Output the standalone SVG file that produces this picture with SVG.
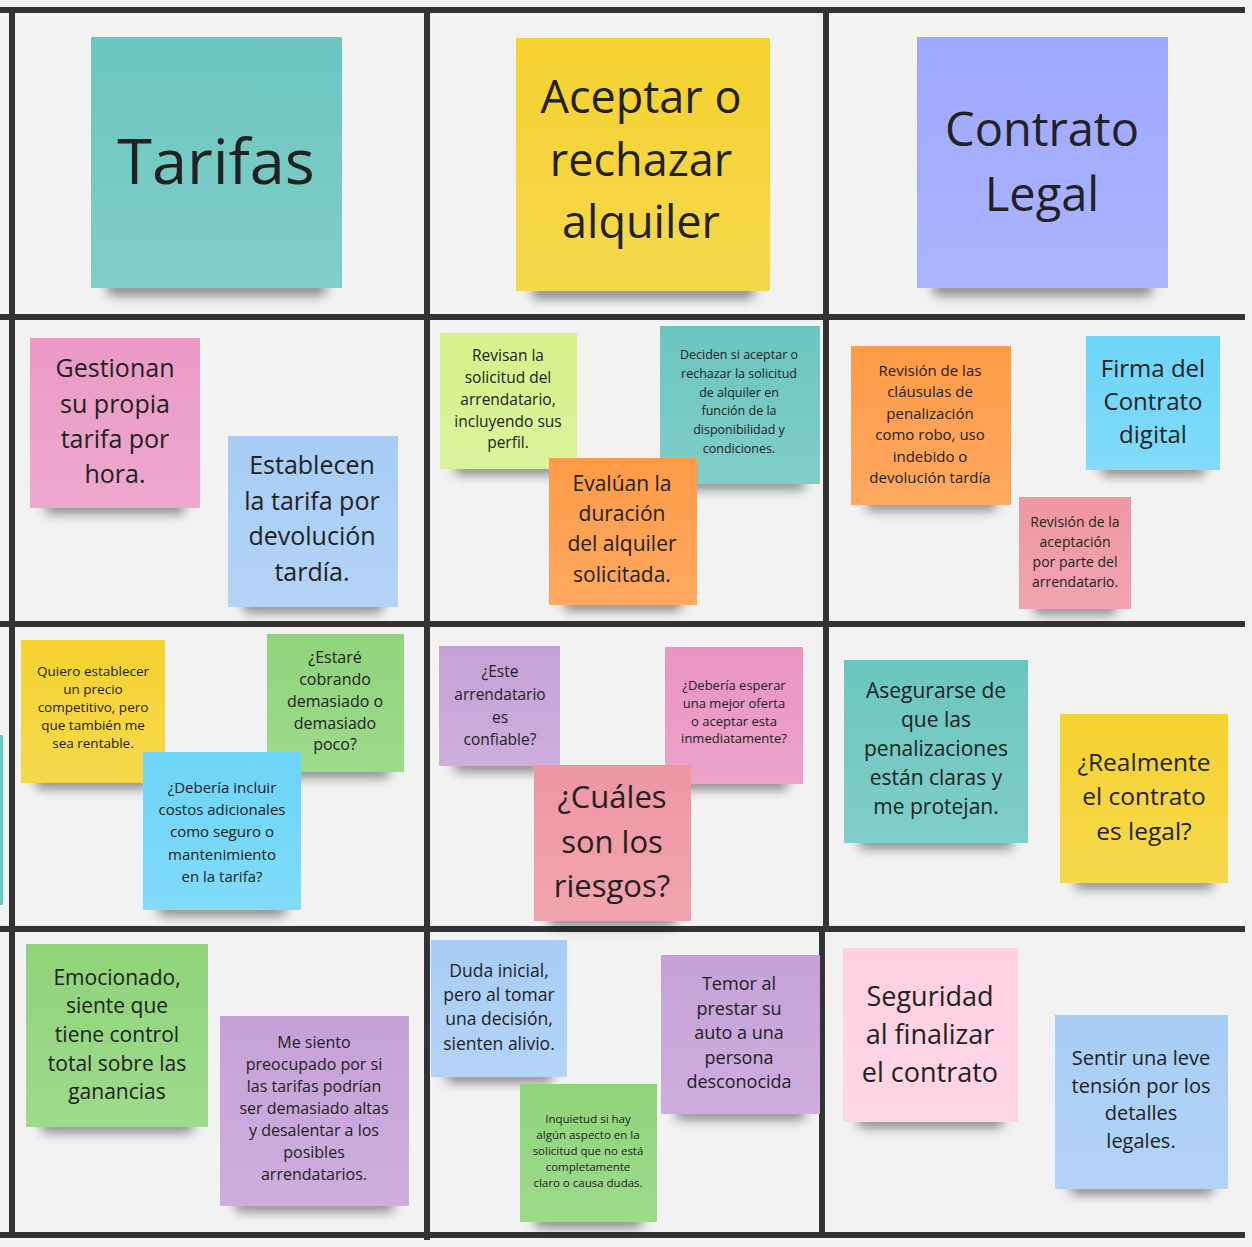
<svg xmlns="http://www.w3.org/2000/svg" width="1252" height="1247" viewBox="0 0 1252 1247">
<defs>
<filter id="blur" x="-20%" y="-150%" width="140%" height="400%"><feGaussianBlur stdDeviation="5.5"/></filter>
<linearGradient id="sheen" x1="0" y1="0" x2="0" y2="1"><stop offset="0" stop-color="#fff" stop-opacity="0"/><stop offset="1" stop-color="#fff" stop-opacity="0.14"/></linearGradient>
<style>
.sh{fill:#000;opacity:.42;filter:url(#blur)}
.gl{fill:url(#sheen)}
.t{font-family:"Open Sans","Noto Sans","Liberation Sans",sans-serif;fill:#222;text-anchor:middle}
.grid{stroke:#333;stroke-width:6;fill:none}
.teal{fill:#6bc6bf}.yel{fill:#f5d230}.peri{fill:#9ea8ff}.pink{fill:#eb9ac5}.lblue{fill:#a7cdf5}
.lgreen{fill:#d5f28b}.orange{fill:#ff9b47}.cyan{fill:#6dd5f8}.rose{fill:#ef96a3}.green{fill:#8fd47a}
.purple{fill:#c6a1d8}.mag{fill:#ea94c1}.lpink{fill:#ffd0e1}
</style>
</defs>
<rect width="1252" height="1247" fill="#f2f2f2"/>
<g id="grid" class="grid">
<line x1="0" y1="10" x2="1245" y2="10"/>
<line x1="0" y1="317" x2="1245" y2="317"/>
<line x1="0" y1="624" x2="1245" y2="624"/>
<line x1="0" y1="929" x2="1245" y2="929"/>
<line x1="0" y1="1235" x2="1245" y2="1235"/>
<line x1="12" y1="7" x2="12" y2="1238"/>
<line x1="427" y1="7" x2="427" y2="1240"/>
<line x1="826" y1="7" x2="826" y2="929"/>
<line x1="822" y1="929" x2="822" y2="1238"/>
</g>
<g id="connectors"></g>

<g id="n-edge"><rect x="-10" y="735" width="13" height="170" class="teal"/></g>

<g id="n-tarifas"><rect class="sh" x="106" y="280" width="221" height="16" rx="8"/><rect x="91" y="37" width="251" height="251" class="teal"/><rect x="91" y="37" width="251" height="251" class="gl"/>
<text class="t" x="216" y="184" font-size="63">Tarifas</text></g>

<g id="n-aceptar"><rect class="sh" x="531" y="283" width="224" height="16" rx="8"/><rect x="516" y="38" width="254" height="253" class="yel"/><rect x="516" y="38" width="254" height="253" class="gl"/>
<text class="t" x="641" font-size="45"><tspan x="641" y="113">Aceptar o</tspan><tspan x="641" y="176">rechazar</tspan><tspan x="641" y="238">alquiler</tspan></text></g>

<g id="n-contrato"><rect class="sh" x="932" y="280" width="221" height="16" rx="8"/><rect x="917" y="37" width="251" height="251" class="peri"/><rect x="917" y="37" width="251" height="251" class="gl"/>
<text class="t" font-size="47"><tspan x="1042" y="146">Contrato</tspan><tspan x="1042" y="211">Legal</tspan></text></g>

<g id="n-gestionan"><rect class="sh" x="44" y="500" width="142" height="14" rx="7"/><rect x="30" y="338" width="170" height="170" class="pink"/><rect x="30" y="338" width="170" height="170" class="gl"/>
<text class="t" font-size="25"><tspan x="115" y="377">Gestionan</tspan><tspan x="115" y="413">su propia</tspan><tspan x="115" y="448">tarifa por</tspan><tspan x="115" y="483">hora.</tspan></text></g>

<g id="n-establecen"><rect class="sh" x="242" y="599" width="142" height="14" rx="7"/><rect x="228" y="436" width="170" height="171" class="lblue"/><rect x="228" y="436" width="170" height="171" class="gl"/>
<text class="t" font-size="25"><tspan x="312" y="474">Establecen</tspan><tspan x="312" y="510">la tarifa por</tspan><tspan x="312" y="545">devolución</tspan><tspan x="312" y="581">tardía.</tspan></text></g>

<g id="n-revisan"><rect class="sh" x="454" y="461" width="109" height="14" rx="7"/><rect x="440" y="333" width="137" height="136" class="lgreen"/><rect x="440" y="333" width="137" height="136" class="gl"/>
<text class="t" font-size="15.5"><tspan x="508" y="361">Revisan la</tspan><tspan x="508" y="383">solicitud del</tspan><tspan x="508" y="405">arrendatario,</tspan><tspan x="508" y="427">incluyendo sus</tspan><tspan x="508" y="448">perfil.</tspan></text></g>

<g id="n-deciden"><rect class="sh" x="674" y="476" width="132" height="14" rx="7"/><rect x="660" y="326" width="160" height="158" class="teal"/><rect x="660" y="326" width="160" height="158" class="gl"/>
<text class="t" font-size="12.5"><tspan x="739" y="359">Deciden si aceptar o</tspan><tspan x="739" y="378">rechazar la solicitud</tspan><tspan x="739" y="397">de alquiler en</tspan><tspan x="739" y="415">función de la</tspan><tspan x="739" y="434">disponibilidad y</tspan><tspan x="739" y="453">condiciones.</tspan></text></g>

<g id="n-evaluan"><rect class="sh" x="563" y="597" width="120" height="14" rx="7"/><rect x="549" y="458" width="148" height="147" class="orange"/><rect x="549" y="458" width="148" height="147" class="gl"/>
<text class="t" font-size="21"><tspan x="622" y="491">Evalúan la</tspan><tspan x="622" y="521">duración</tspan><tspan x="622" y="551">del alquiler</tspan><tspan x="622" y="582">solicitada.</tspan></text></g>

<g id="n-clausulas"><rect class="sh" x="865" y="497" width="132" height="14" rx="7"/><rect x="851" y="346" width="160" height="159" class="orange"/><rect x="851" y="346" width="160" height="159" class="gl"/>
<text class="t" font-size="15"><tspan x="930" y="376">Revisión de las</tspan><tspan x="930" y="397">cláusulas de</tspan><tspan x="930" y="419">penalización</tspan><tspan x="930" y="440">como robo, uso</tspan><tspan x="930" y="462">indebido o</tspan><tspan x="930" y="483">devolución tardía</tspan></text></g>

<g id="n-firma"><rect class="sh" x="1100" y="462" width="106" height="14" rx="7"/><rect x="1086" y="336" width="134" height="134" class="cyan"/><rect x="1086" y="336" width="134" height="134" class="gl"/>
<text class="t" font-size="24"><tspan x="1153" y="377">Firma del</tspan><tspan x="1153" y="410">Contrato</tspan><tspan x="1153" y="443">digital</tspan></text></g>

<g id="n-aceptacion"><rect class="sh" x="1033" y="601" width="84" height="14" rx="7"/><rect x="1019" y="497" width="112" height="112" class="rose"/><rect x="1019" y="497" width="112" height="112" class="gl"/>
<text class="t" font-size="14"><tspan x="1075" y="527">Revisión de la</tspan><tspan x="1075" y="547">aceptación</tspan><tspan x="1075" y="567">por parte del</tspan><tspan x="1075" y="587">arrendatario.</tspan></text></g>

<g id="n-quiero"><rect class="sh" x="35" y="775" width="116" height="14" rx="7"/><rect x="21" y="640" width="144" height="143" class="yel"/><rect x="21" y="640" width="144" height="143" class="gl"/>
<text class="t" font-size="13.5"><tspan x="93" y="676">Quiero establecer</tspan><tspan x="93" y="694">un precio</tspan><tspan x="93" y="712">competitivo, pero</tspan><tspan x="93" y="730">que también me</tspan><tspan x="93" y="748">sea rentable.</tspan></text></g>

<g id="n-estare"><rect class="sh" x="281" y="764" width="109" height="14" rx="7"/><rect x="267" y="634" width="137" height="138" class="green"/><rect x="267" y="634" width="137" height="138" class="gl"/>
<text class="t" font-size="16"><tspan x="335" y="663">¿Estaré</tspan><tspan x="335" y="685">cobrando</tspan><tspan x="335" y="707">demasiado o</tspan><tspan x="335" y="729">demasiado</tspan><tspan x="335" y="750">poco?</tspan></text></g>

<g id="n-incluir"><rect class="sh" x="157" y="902" width="130" height="14" rx="7"/><rect x="143" y="752" width="158" height="158" class="cyan"/><rect x="143" y="752" width="158" height="158" class="gl"/>
<text class="t" font-size="15"><tspan x="222" y="793">¿Debería incluir</tspan><tspan x="222" y="815">costos adicionales</tspan><tspan x="222" y="837">como seguro o</tspan><tspan x="222" y="860">mantenimiento</tspan><tspan x="222" y="882">en la tarifa?</tspan></text></g>

<g id="n-confiable"><rect class="sh" x="453" y="758" width="93" height="14" rx="7"/><rect x="439" y="646" width="121" height="120" class="purple"/><rect x="439" y="646" width="121" height="120" class="gl"/>
<text class="t" font-size="15.5"><tspan x="500" y="677">¿Este</tspan><tspan x="500" y="700">arrendatario</tspan><tspan x="500" y="723">es</tspan><tspan x="500" y="745">confiable?</tspan></text></g>

<g id="n-esperar"><rect class="sh" x="679" y="776" width="110" height="14" rx="7"/><rect x="665" y="647" width="138" height="137" class="mag"/><rect x="665" y="647" width="138" height="137" class="gl"/>
<text class="t" font-size="13"><tspan x="734" y="690">¿Debería esperar</tspan><tspan x="734" y="708">una mejor oferta</tspan><tspan x="734" y="726">o aceptar esta</tspan><tspan x="734" y="743">inmediatamente?</tspan></text></g>

<g id="n-riesgos"><rect class="sh" x="548" y="913" width="129" height="14" rx="7"/><rect x="534" y="765" width="157" height="156" class="rose"/><rect x="534" y="765" width="157" height="156" class="gl"/>
<text class="t" font-size="31"><tspan x="612" y="808">¿Cuáles</tspan><tspan x="612" y="853">son los</tspan><tspan x="612" y="897">riesgos?</tspan></text></g>

<g id="n-asegurarse"><rect class="sh" x="858" y="835" width="156" height="14" rx="7"/><rect x="844" y="660" width="184" height="183" class="teal"/><rect x="844" y="660" width="184" height="183" class="gl"/>
<text class="t" font-size="21"><tspan x="936" y="698">Asegurarse de</tspan><tspan x="936" y="727">que las</tspan><tspan x="936" y="756">penalizaciones</tspan><tspan x="936" y="785">están claras y</tspan><tspan x="936" y="814">me protejan.</tspan></text></g>

<g id="n-legal"><rect class="sh" x="1074" y="875" width="140" height="14" rx="7"/><rect x="1060" y="714" width="168" height="169" class="yel"/><rect x="1060" y="714" width="168" height="169" class="gl"/>
<text class="t" font-size="24.5"><tspan x="1144" y="771">¿Realmente</tspan><tspan x="1144" y="805">el contrato</tspan><tspan x="1144" y="840">es legal?</tspan></text></g>

<g id="n-emocionado"><rect class="sh" x="40" y="1119" width="154" height="14" rx="7"/><rect x="26" y="944" width="182" height="183" class="green"/><rect x="26" y="944" width="182" height="183" class="gl"/>
<text class="t" font-size="21"><tspan x="117" y="985">Emocionado,</tspan><tspan x="117" y="1013">siente que</tspan><tspan x="117" y="1042">tiene control</tspan><tspan x="117" y="1071">total sobre las</tspan><tspan x="117" y="1099">ganancias</tspan></text></g>

<g id="n-preocupado"><rect class="sh" x="234" y="1198" width="161" height="14" rx="7"/><rect x="220" y="1016" width="189" height="190" class="purple"/><rect x="220" y="1016" width="189" height="190" class="gl"/>
<text class="t" font-size="16"><tspan x="314" y="1048">Me siento</tspan><tspan x="314" y="1070">preocupado por si</tspan><tspan x="314" y="1092">las tarifas podrían</tspan><tspan x="314" y="1114">ser demasiado altas</tspan><tspan x="314" y="1136">y desalentar a los</tspan><tspan x="314" y="1158">posibles</tspan><tspan x="314" y="1180">arrendatarios.</tspan></text></g>

<g id="n-duda"><rect class="sh" x="445" y="1069" width="108" height="14" rx="7"/><rect x="431" y="940" width="136" height="137" class="lblue"/><rect x="431" y="940" width="136" height="137" class="gl"/>
<text class="t" font-size="17.5"><tspan x="499" y="977">Duda inicial,</tspan><tspan x="499" y="1001">pero al tomar</tspan><tspan x="499" y="1025">una decisión,</tspan><tspan x="499" y="1050">sienten alivio.</tspan></text></g>

<g id="n-temor"><rect class="sh" x="675" y="1106" width="131" height="14" rx="7"/><rect x="661" y="955" width="159" height="159" class="purple"/><rect x="661" y="955" width="159" height="159" class="gl"/>
<text class="t" font-size="18"><tspan x="739" y="990">Temor al</tspan><tspan x="739" y="1015">prestar su</tspan><tspan x="739" y="1039">auto a una</tspan><tspan x="739" y="1064">persona</tspan><tspan x="739" y="1088">desconocida</tspan></text></g>

<g id="n-inquietud"><rect class="sh" x="534" y="1214" width="109" height="14" rx="7"/><rect x="520" y="1084" width="137" height="138" class="green"/><rect x="520" y="1084" width="137" height="138" class="gl"/>
<text class="t" font-size="11.5"><tspan x="588" y="1123">Inquietud si hay</tspan><tspan x="588" y="1139">algún aspecto en la</tspan><tspan x="588" y="1155">solicitud que no está</tspan><tspan x="588" y="1171">completamente</tspan><tspan x="588" y="1187">claro o causa dudas.</tspan></text></g>

<g id="n-seguridad"><rect class="sh" x="857" y="1114" width="147" height="14" rx="7"/><rect x="843" y="948" width="175" height="174" class="lpink"/><rect x="843" y="948" width="175" height="174" class="gl"/>
<text class="t" font-size="27"><tspan x="930" y="1006">Seguridad</tspan><tspan x="930" y="1044">al finalizar</tspan><tspan x="930" y="1082">el contrato</tspan></text></g>

<g id="n-tension"><rect class="sh" x="1069" y="1181" width="145" height="14" rx="7"/><rect x="1055" y="1015" width="173" height="174" class="lblue"/><rect x="1055" y="1015" width="173" height="174" class="gl"/>
<text class="t" font-size="20"><tspan x="1141" y="1065">Sentir una leve</tspan><tspan x="1141" y="1093">tensión por los</tspan><tspan x="1141" y="1120">detalles</tspan><tspan x="1141" y="1148">legales.</tspan></text></g>
</svg>
